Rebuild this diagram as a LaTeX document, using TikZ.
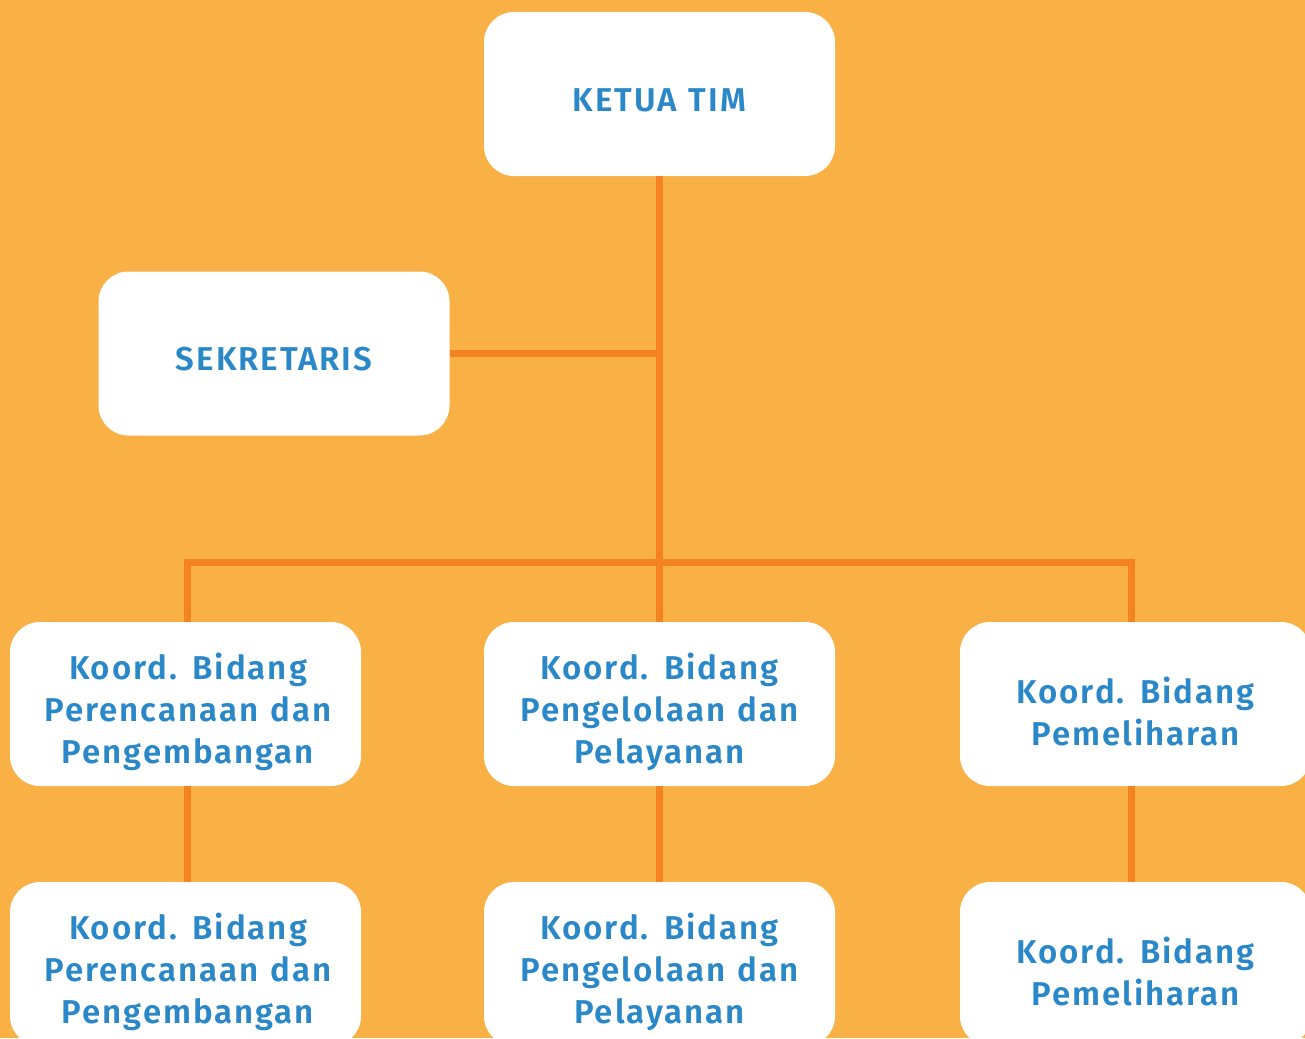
\documentclass[tikz,border=0pt]{standalone}
\usepackage{fontspec}
\setmainfont{Fira Sans}[LetterSpace=6, WordSpace=1.2, BoldFont={Fira Sans SemiBold}]
\definecolor{bg}{HTML}{F9B044}
\definecolor{wire}{HTML}{F58220}
\definecolor{ink}{HTML}{2A88C8}
\begin{document}
\begin{tikzpicture}[x=1pt,y=-1pt,
  box/.style={fill=white, rounded corners=30pt, minimum width=351pt,
    minimum height=164pt, inner sep=0pt},
  lbl/.style={align=center, text=ink, inner sep=0pt, yshift=-7.5pt,
    font=\fontsize{33}{42}\selectfont\bfseries},
  link/.style={draw=wire, line width=7pt}]
\fill[bg] (0,0) rectangle (1305,1038);
\useasboundingbox (0,0) rectangle (1305,1038);

% boxes, each with its caption as a centred label
\node[box, label={[lbl, yshift=1.5pt]center:KETUA TIM}] (ketua) at (659.5,94) {};
\node[box, label={[lbl, yshift=1.5pt]center:SEKRETARIS}] (sek) at (274,353.5) {};
\node[box, label={[lbl, xshift=2.5pt]center:{Koord. Bidang\\Perencanaan dan\\Pengembangan}}] (a1) at (185.5,704) {};
\node[box, label={[lbl]center:{Koord. Bidang\\Pengelolaan dan\\Pelayanan}}] (b1) at (659.5,704) {};
\node[box, label={[lbl]center:{Koord. Bidang\\Pemeliharan}}] (c1) at (1135.5,704) {};
\node[box, label={[lbl, xshift=2.5pt]center:{Koord. Bidang\\Perencanaan dan\\Pengembangan}}] (a2) at (185.5,964) {};
\node[box, label={[lbl]center:{Koord. Bidang\\Pengelolaan dan\\Pelayanan}}] (b2) at (659.5,964) {};
\node[box, label={[lbl]center:{Koord. Bidang\\Pemeliharan}}] (c2) at (1135.5,964) {};

% connectors
\coordinate (busL) at (187,562);
\coordinate (busR) at (1131,562);
\draw[link] (ketua.south) -- (b1.north);
\draw[link] (sek.east) -- (sek.east -| ketua.south);
\draw[link] (a1.north -| busL) -- (busL) -- (busR) -- (c1.north -| busR);
\draw[link] (a1.south -| busL) -- (a2.north -| busL);
\draw[link] (b1.south) -- (b2.north);
\draw[link] (c1.south -| busR) -- (c2.north -| busR);
\end{tikzpicture}
\end{document}
